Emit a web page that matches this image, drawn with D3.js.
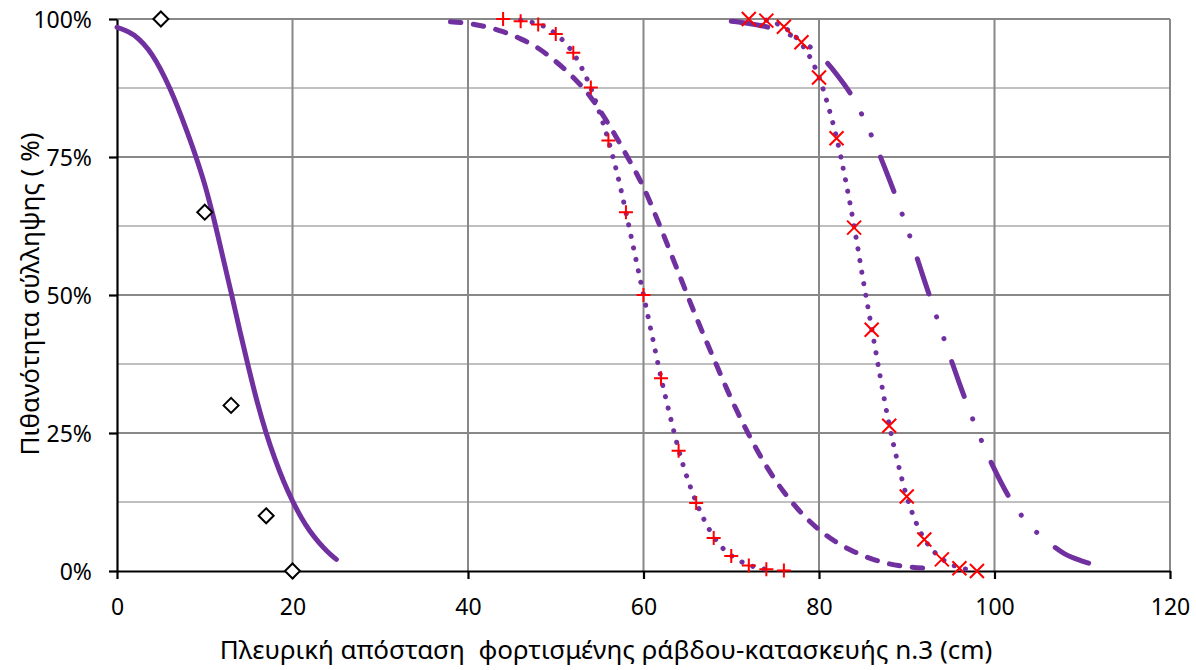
<!DOCTYPE html>
<html>
<head>
<meta charset="utf-8">
<script src="https://cdn.jsdelivr.net/npm/d3@7"></script>
<style>
  html, body { margin: 0; padding: 0; background: #fff; }
  svg { display: block; font-family: "Noto Sans", "DejaVu Sans", sans-serif; }
</style>
</head>
<body>
<svg id="chart" width="1196" height="670"></svg>
<script>
// ---------- DATA ----------
const xTicks = [0, 20, 40, 60, 80, 100, 120];
const yTicks = [0, 25, 50, 75, 100];
const yMinorGrid = [12.5, 37.5, 62.5, 87.5];
const xTitle = "Πλευρική απόσταση  φορτισμένης ράβδου-κατασκευής n.3 (cm)";
const yTitle = "Πιθανότητα σύλληψης ( %)";

// series 1: observed (diamonds) and fitted (solid)
const obs1X = [5, 10, 13, 17, 20];
const obs1Y = [100, 65, 30, 10, 0];
const fit1X = [0, 2, 4, 6, 8, 9, 10, 11, 12, 13, 14, 15, 16, 17, 18, 19, 20, 21, 22, 23, 24, 25];
const fit1Y = [98.5, 97, 93.5, 87.5, 79.5, 75, 70, 64, 57.3, 50.5, 43.5, 36.8, 30.5, 25, 20.3, 16.2, 12.7, 9.7, 7.2, 5.2, 3.5, 2.1];

// series 2: observed (+) and fitted (dotted)
const obs2X = [44, 46, 48, 50, 52, 54, 56, 58, 60, 62, 64, 66, 68, 70, 72, 74, 76];
const obs2Y = [100, 99.6, 99, 97.3, 93.9, 87.6, 78, 65, 50, 34.9, 21.8, 12.3, 6, 2.7, 1, 0.3, 0.1];
const fit2X = [46, 47, 48, 49, 50, 51, 52, 53, 54, 55, 56, 57, 58, 59, 60, 61, 62, 63, 64, 65, 66, 67, 68, 69, 70, 71, 72, 73, 74];
const fit2Y = [99.8, 99.5, 99.1, 98.4, 97.3, 95.8, 93.8, 91, 87.5, 83, 78, 72, 65, 57.5, 50, 42.5, 35, 28.3, 22, 16.8, 12.5, 9, 6.2, 4.2, 2.8, 1.8, 1.1, 0.6, 0.3];

// series 3: fitted (dashed)
const fit3X = [38, 40, 42, 44, 46, 48, 50, 52, 54, 56, 58, 60, 62, 64, 66, 68, 70, 72, 74, 76, 78, 80, 82, 84, 86, 88, 90, 92];
const fit3Y = [99.5, 99.2, 98.6, 97.7, 96.4, 94.7, 92.3, 89.4, 85.8, 81, 75.5, 69.5, 62, 54, 46, 38.5, 31.2, 24.7, 19, 14.3, 10.5, 7.5, 5.2, 3.5, 2.2, 1.3, 0.8, 0.5];

// series 4: observed (x) and fitted (dotted)
const obs4X = [72, 74, 76, 78, 80, 82, 84, 86, 88, 90, 92, 94, 96, 98];
const obs4Y = [100, 99.7, 98.6, 95.8, 89.4, 78.4, 62.2, 43.7, 26.3, 13.5, 5.7, 2.1, 0.5, 0];
const fit4X = [74, 75, 76, 77, 78, 79, 80, 81, 82, 83, 84, 85, 86, 87, 88, 89, 90, 91, 92, 93, 94, 95, 96, 97];
const fit4Y = [99.8, 99.3, 98.5, 97.3, 95.5, 93, 89.5, 84.5, 78.5, 71, 62.5, 53, 44, 35, 26.5, 19.5, 13.5, 9, 5.8, 3.7, 2.2, 1.3, 0.6, 0.3];

// series 5: fitted (long dash - dot - dot)
const fit5X = [70, 72, 74, 76, 78, 80, 82, 84, 86, 88, 90, 92, 94, 96, 98, 100, 102, 104, 106, 108, 110, 112];
const fit5Y = [99.6, 99.2, 98.6, 97.6, 96, 93.6, 90, 85.4, 78.8, 71, 62.3, 52.7, 43.2, 34, 25.6, 18.4, 12.5, 8.3, 5.4, 3.1, 1.8, 0.9];

// ---------- CHART ----------
const svg = d3.select("#chart");
const x = d3.scaleLinear().domain([0, 120]).range([117, 1170]);
const y = d3.scaleLinear().domain([0, 100]).range([571, 19]);

const purple = "#7030a0";
const red = "#ff0000";
const majorGrid = "#888888";
const minorGrid = "#c0c0c0";

const g = svg.append("g");

// minor horizontal grid
g.selectAll(".hminor").data(yMinorGrid).enter().append("line")
  .attr("x1", x(0)).attr("x2", x(120))
  .attr("y1", d => y(d)).attr("y2", d => y(d))
  .attr("stroke", minorGrid).attr("stroke-width", 2);
// major horizontal grid
g.selectAll(".hmajor").data(yTicks.filter(d => d > 0)).enter().append("line")
  .attr("x1", x(0)).attr("x2", x(120))
  .attr("y1", d => y(d)).attr("y2", d => y(d))
  .attr("stroke", majorGrid).attr("stroke-width", 2);
// vertical grid
g.selectAll(".vmajor").data(xTicks.filter(d => d > 0)).enter().append("line")
  .attr("x1", d => x(d)).attr("x2", d => x(d))
  .attr("y1", y(0)).attr("y2", y(100))
  .attr("stroke", majorGrid).attr("stroke-width", 2);

// axes
const fontSize = 23;
const xAxis = d3.axisBottom(x).tickValues(xTicks).tickSize(8).tickSizeOuter(0).tickFormat(d3.format("d"));
const yAxis = d3.axisLeft(y).tickValues(yTicks).tickSize(8).tickSizeOuter(0).tickFormat(d => d + "%");

const gx = svg.append("g").attr("transform", `translate(0,${y(0)})`).call(xAxis);
const gy = svg.append("g").attr("transform", `translate(${x(0)},0)`).call(yAxis);
[gx, gy].forEach(a => {
  a.select(".domain").attr("stroke", "#000").attr("stroke-width", 2.2);
  a.selectAll(".tick line").attr("stroke", "#000").attr("stroke-width", 2.2);
  a.selectAll(".tick text").attr("fill", "#000").style("font-size", fontSize + "px")
    .style("font-family", '"Noto Sans", sans-serif');
});
gx.selectAll(".tick text").attr("y", 44).attr("dy", 0);
gy.selectAll(".tick text").attr("x", -25).attr("dy", "0.36em");

// titles
svg.append("text")
  .attr("x", 606).attr("y", 659)
  .attr("text-anchor", "middle")
  .attr("xml:space", "preserve")
  .style("white-space", "pre")
  .style("font-size", "26px")
  .text(xTitle);
svg.append("text")
  .attr("transform", `translate(39,${(y(0) + y(100)) / 2 - 1}) rotate(-90)`)
  .attr("text-anchor", "middle")
  .style("font-size", "26px")
  .text(yTitle);

// lines
const line = d3.line().x(d => x(d[0])).y(d => y(d[1])).curve(d3.curveMonotoneX);
const zip = (a, b) => a.map((v, i) => [v, b[i]]);

function drawLine(xs, ys, dash) {
  svg.append("path")
    .datum(zip(xs, ys))
    .attr("d", line)
    .attr("fill", "none")
    .attr("stroke", purple)
    .attr("stroke-width", 5)
    .attr("stroke-linecap", "round")
    .attr("stroke-linejoin", "round")
    .attr("stroke-dasharray", dash);
}
drawLine(fit1X, fit1Y, null);
drawLine(fit3X, fit3Y, "10.5,12.5");
drawLine(fit2X, fit2Y, "0.1,11.6");
drawLine(fit4X, fit4Y, "0.1,11.6");
drawLine(fit5X, fit5Y, "37,24,0.1,23,0.1,24");

// markers
const dia = svg.append("g");
dia.selectAll("path").data(zip(obs1X, obs1Y)).enter().append("path")
  .attr("transform", d => `translate(${x(d[0])},${y(d[1])})`)
  .attr("d", "M0,-7.5L7.5,0L0,7.5L-7.5,0Z")
  .attr("fill", "#fff").attr("stroke", "#000").attr("stroke-width", 2);

const plus = svg.append("g");
plus.selectAll("path").data(zip(obs2X, obs2Y)).enter().append("path")
  .attr("transform", d => `translate(${x(d[0])},${y(d[1])})`)
  .attr("d", "M-7,0H7M0,-7V7")
  .attr("fill", "none").attr("stroke", red).attr("stroke-width", 2);

const cross = svg.append("g");
cross.selectAll("path").data(zip(obs4X, obs4Y)).enter().append("path")
  .attr("transform", d => `translate(${x(d[0])},${y(d[1])})`)
  .attr("d", "M-7,-7L7,7M-7,7L7,-7")
  .attr("fill", "none").attr("stroke", red).attr("stroke-width", 2);
</script>
</body>
</html>
